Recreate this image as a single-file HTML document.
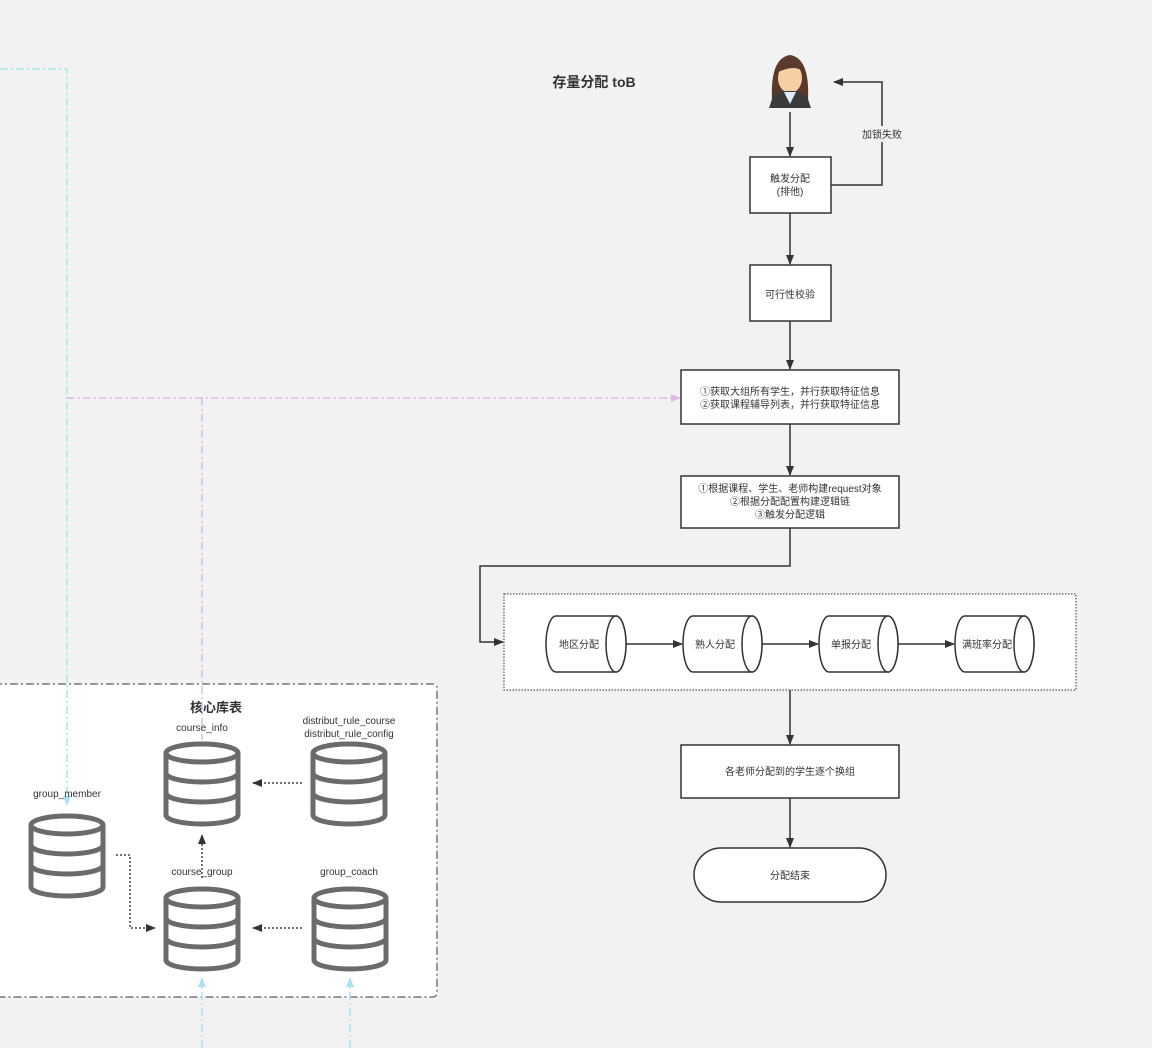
<!DOCTYPE html>
<html><head><meta charset="utf-8"><style>
html,body{margin:0;padding:0;background:#f2f2f2;}
svg{display:block;font-family:"Liberation Sans","Noto Sans CJK SC",sans-serif;}
</style></head><body>
<svg width="1152" height="1048" viewBox="0 0 1152 1048" xmlns="http://www.w3.org/2000/svg">
<defs>
<marker id="a" markerWidth="10" markerHeight="8" refX="9" refY="4" orient="auto" markerUnits="userSpaceOnUse"><path d="M0,0 L10,4 L0,8 Z" fill="#333"/></marker>
<marker id="ac" markerWidth="10" markerHeight="8" refX="9" refY="4" orient="auto" markerUnits="userSpaceOnUse"><path d="M0,0 L10,4 L0,8 Z" fill="#a8e4f0"/></marker>
<marker id="ap" markerWidth="10" markerHeight="8" refX="9" refY="4" orient="auto" markerUnits="userSpaceOnUse"><path d="M0,0 L10,4 L0,8 Z" fill="#e0b8ec"/></marker>
<g id="db" fill="#fff" stroke="#6b6b6b" stroke-width="5">
<path d="M-36,10 L-36,72 A36,9 0 0 0 36,72 L36,10"/>
<ellipse cx="0" cy="10" rx="36" ry="9"/>
<path d="M-36,30 A36,9 0 0 0 36,30 M-36,50 A36,9 0 0 0 36,50" fill="none"/>
</g>
</defs>

<!-- core box -->
<rect x="-10" y="684" width="447" height="313" rx="4" fill="#fff" stroke="#777" stroke-width="1.5" stroke-dasharray="8,3,2,3"/>
<text x="216" y="712" font-size="13" font-weight="bold" fill="#333" text-anchor="middle">核心库表</text>

<!-- cyan lines -->
<path d="M0,69 L67,69 L67,805" fill="none" stroke="#a8e4f0" stroke-width="1.5" stroke-dasharray="8,3,2,3" marker-end="url(#ac)"/>
<path d="M202,1048 L202,978" fill="none" stroke="#a8e4f0" stroke-width="1.5" stroke-dasharray="8,3,2,3" marker-end="url(#ac)"/>
<path d="M350,1048 L350,978" fill="none" stroke="#a8e4f0" stroke-width="1.5" stroke-dasharray="8,3,2,3" marker-end="url(#ac)"/>
<!-- pink -->
<path d="M67,398 L680,398" fill="none" stroke="#e0b8ec" stroke-width="1.5" stroke-dasharray="8,3,2,3" marker-end="url(#ap)"/>
<path d="M202,398 L202,740" fill="none" stroke="#e0b8ec" stroke-width="1.5" stroke-dasharray="8,3,2,3"/>

<!-- dbs -->
<use href="#db" x="202" y="743"/>
<use href="#db" x="349" y="743"/>
<use href="#db" x="67" y="815"/>
<use href="#db" x="202" y="888"/>
<use href="#db" x="350" y="888"/>
<g font-size="10" fill="#333" text-anchor="middle">
<text x="202" y="731">course_info</text>
<text x="349" y="724">distribut_rule_course</text>
<text x="349" y="737">distribut_rule_config</text>
<text x="67" y="797">group_member</text>
<text x="202" y="875">course_group</text>
<text x="349" y="875">group_coach</text>
</g>
<g fill="none" stroke="#444" stroke-width="1.5" stroke-dasharray="2,2">
<path d="M302,783 L253,783" marker-end="url(#a)"/>
<path d="M302,928 L253,928" marker-end="url(#a)"/>
<path d="M202,878 L202,835" marker-end="url(#a)"/>
<path d="M116,855 L130,855 L130,928 L155,928" marker-end="url(#a)"/>
</g>

<!-- title -->
<text x="594" y="87" font-size="14" font-weight="bold" fill="#333" text-anchor="middle">存量分配 toB</text>

<!-- person -->
<g>
<path d="M772,100 Q770,58 790,55 Q810,58 808,100 Z" fill="#5a3a2a"/>
<ellipse cx="790" cy="78" rx="12" ry="15" fill="#f6cfa4"/>
<path d="M778,72 Q782,58 790,59 Q800,58 803,72 Q796,64 778,72 Z" fill="#5a3a2a"/>
<path d="M769,108 L773,96 L785,91 L795,91 L807,96 L811,108 Z" fill="#3b3b3b"/>
<path d="M784,92 L790,104 L796,92 Z" fill="#dfeefc"/>
</g>

<!-- flow -->
<g fill="none" stroke="#333" stroke-width="1.5">
<path d="M790,112 L790,156" marker-end="url(#a)"/>
<path d="M831,185 L882,185 L882,82 L834,82" marker-end="url(#a)"/>
<path d="M790,213 L790,264" marker-end="url(#a)"/>
<path d="M790,321 L790,369" marker-end="url(#a)"/>
<path d="M790,424 L790,475" marker-end="url(#a)"/>
<path d="M790,528 L790,566 L480,566 L480,642 L503,642" marker-end="url(#a)"/>
<path d="M790,690 L790,744" marker-end="url(#a)"/>
<path d="M790,798 L790,847" marker-end="url(#a)"/>
</g>
<rect x="860" y="126" width="44" height="16" fill="#f2f2f2"/>
<text x="882" y="138" font-size="10" fill="#333" text-anchor="middle">加锁失败</text>

<g fill="#fff" stroke="#333" stroke-width="1.5">
<rect x="750" y="157" width="81" height="56"/>
<rect x="750" y="265" width="81" height="56"/>
<rect x="681" y="370" width="218" height="54"/>
<rect x="681" y="476" width="218" height="52"/>
<rect x="681" y="745" width="218" height="53"/>
<rect x="694" y="848" width="192" height="54" rx="27"/>
</g>
<g font-size="10" fill="#333" text-anchor="middle">
<text x="790" y="182">触发分配</text>
<text x="790" y="195">(排他)</text>
<text x="790" y="298">可行性校验</text>
<text x="790" y="395">①获取大组所有学生，并行获取特征信息</text>
<text x="790" y="408">②获取课程辅导列表，并行获取特征信息</text>
<text x="790" y="492">①根据课程、学生、老师构建request对象</text>
<text x="790" y="505">②根据分配配置构建逻辑链</text>
<text x="790" y="518">③触发分配逻辑</text>
<text x="790" y="775">各老师分配到的学生逐个换组</text>
<text x="790" y="879">分配结束</text>
</g>

<!-- container -->
<rect x="504" y="594" width="572" height="96" fill="#fff" stroke="#555" stroke-width="1.2" stroke-dasharray="1.5,1.5"/>
<g fill="#fff" stroke="#333" stroke-width="1.5">
<path d="M556,616 L616,616 A10,28 0 0 1 616,672 L556,672 A10,28 0 0 1 556,616 Z"/><ellipse cx="616" cy="644" rx="10" ry="28"/>
<path d="M693,616 L752,616 A10,28 0 0 1 752,672 L693,672 A10,28 0 0 1 693,616 Z"/><ellipse cx="752" cy="644" rx="10" ry="28"/>
<path d="M829,616 L888,616 A10,28 0 0 1 888,672 L829,672 A10,28 0 0 1 829,616 Z"/><ellipse cx="888" cy="644" rx="10" ry="28"/>
<path d="M965,616 L1024,616 A10,28 0 0 1 1024,672 L965,672 A10,28 0 0 1 965,616 Z"/><ellipse cx="1024" cy="644" rx="10" ry="28"/>
</g>
<g fill="none" stroke="#333" stroke-width="1.5">
<path d="M626,644 L682,644" marker-end="url(#a)"/>
<path d="M762,644 L818,644" marker-end="url(#a)"/>
<path d="M898,644 L954,644" marker-end="url(#a)"/>
</g>
<g font-size="10" fill="#333" text-anchor="middle">
<text x="579" y="648">地区分配</text>
<text x="715" y="648">熟人分配</text>
<text x="851" y="648">单报分配</text>
<text x="987" y="648">满班率分配</text>
</g>
</svg>
</body></html>
